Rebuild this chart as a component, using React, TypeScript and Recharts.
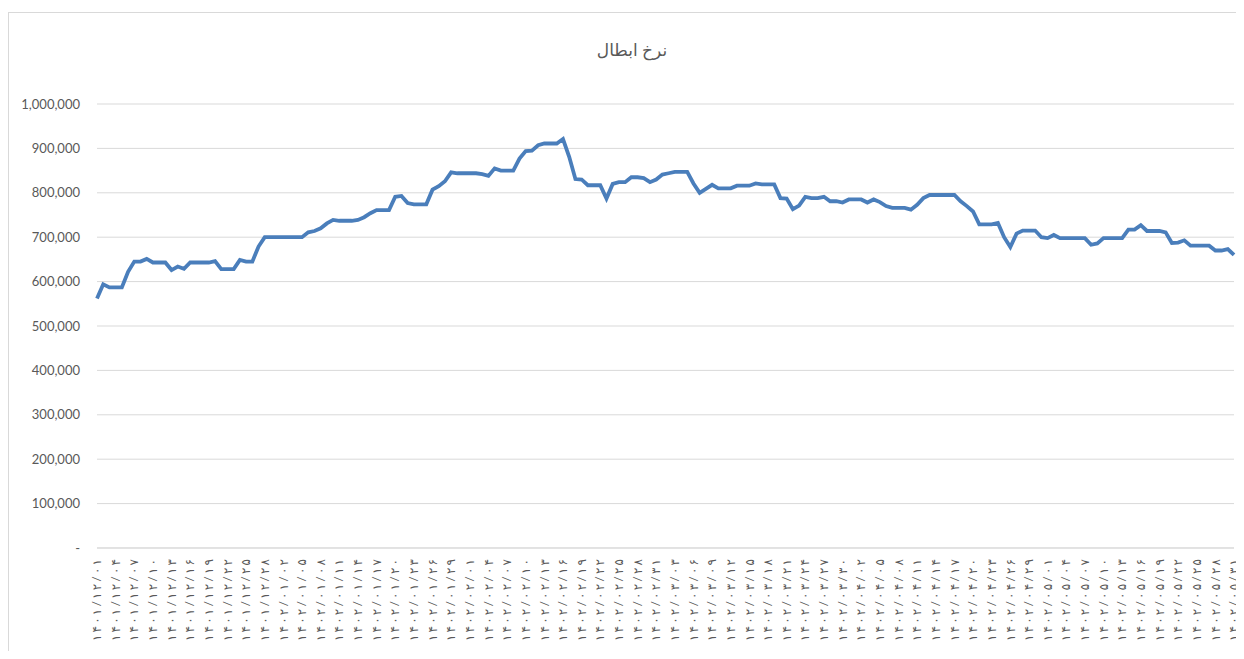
import { LineChart, Line, XAxis, YAxis, CartesianGrid } from 'recharts';

// Persian calendar months covered by the chart
const months = [
    { year: 1401, month: 12, days: 29 },
    { year: 1402, month: 1, days: 31 },
    { year: 1402, month: 2, days: 31 },
    { year: 1402, month: 3, days: 31 },
    { year: 1402, month: 4, days: 31 },
    { year: 1402, month: 5, days: 31 },
];

// redemption price, one value per day
const prices = [
    562000, 594000, 587000, 587000, 587000, 622000, 645000, 645000, 651000, 643000,
    643000, 643000, 626000, 634000, 629000, 643000, 643000, 643000, 643000, 646000,
    628000, 628000, 628000, 649000, 645000, 645000, 679000, 700000, 700000, 700000,
    700000, 700000, 700000, 700000, 711000, 714000, 720000, 731000, 739000, 737000,
    737000, 737000, 739000, 745000, 754000, 761000, 761000, 761000, 791000, 793000,
    777000, 774000, 774000, 774000, 807000, 815000, 826000, 846000, 844000, 844000,
    844000, 844000, 842000, 838000, 855000, 850000, 850000, 850000, 877000, 894000,
    895000, 907000, 911000, 911000, 911000, 921000, 881000, 831000, 830000, 817000,
    817000, 817000, 787000, 820000, 824000, 824000, 835000, 835000, 833000, 824000,
    830000, 841000, 844000, 847000, 847000, 847000, 821000, 800000, 809000, 818000,
    810000, 810000, 810000, 816000, 816000, 816000, 821000, 819000, 819000, 819000,
    788000, 787000, 763000, 771000, 791000, 788000, 788000, 791000, 781000, 781000,
    778000, 785000, 785000, 785000, 778000, 785000, 779000, 770000, 766000, 766000,
    766000, 762000, 773000, 788000, 795000, 795000, 795000, 795000, 795000, 781000,
    770000, 758000, 729000, 729000, 729000, 732000, 700000, 678000, 708000, 715000,
    715000, 715000, 700000, 698000, 705000, 698000, 698000, 698000, 698000, 698000,
    683000, 686000, 698000, 698000, 698000, 698000, 717000, 717000, 727000, 714000,
    714000, 714000, 711000, 687000, 688000, 693000, 681000, 681000, 681000, 681000,
    670000, 670000, 673000, 660000,
];

const yTicks = [0, 100000, 200000, 300000, 400000, 500000, 600000, 700000, 800000, 900000, 1000000];

const title = 'نرخ ابطال';

const faDigits = '۰۱۲۳۴۵۶۷۸۹';
const fa = (s: string) => s.replace(/\d/g, (d) => faDigits[Number(d)]);
const pad = (n: number) => String(n).padStart(2, '0');

const dates = months.flatMap((m) =>
    Array.from({ length: m.days }, (_, i) => fa(`${m.year}/${pad(m.month)}/${pad(i + 1)}`))
);

const data = dates.map((date, i) => ({ date, price: prices[i] }));

const font = "Lato, 'DejaVu Sans', sans-serif";

const DateTick = ({ x, y, payload }: any) => (
    <text
        x={x}
        y={y + 3}
        transform={`rotate(-90 ${x} ${y + 3})`}
        textAnchor="end"
        dy="0.35em"
        fontSize={12}
        textLength={82}
        lengthAdjust="spacing"
        fill="#595959"
        fontFamily={font}
    >
        {payload.value}
    </text>
);

const formatY = (v: number) => (v === 0 ? '-' : v.toLocaleString('en-US'));

export default function App() {
    return (
        <div
            style={{
                position: 'relative',
                marginTop: 4,
                width: 1235,
                height: 638,
                borderLeft: '1px solid #d9d9d9',
                borderTop: '1px solid #d9d9d9',
                background: '#fff',
                overflow: 'hidden',
            }}
        >
            <div
                style={{
                    position: 'absolute',
                    top: 26,
                    left: 0,
                    width: 1246,
                    textAlign: 'center',
                    fontFamily: font,
                    fontSize: 17,
                    color: '#595959',
                }}
            >
                {title}
            </div>
            <LineChart
                width={1260}
                height={638}
                data={data}
                margin={{ top: 91, right: 35, left: 0, bottom: 3 }}
            >
                <CartesianGrid vertical={false} stroke="#d9d9d9" />
                <XAxis
                    dataKey="date"
                    interval={2}
                    height={100}
                    tick={<DateTick />}
                    tickLine={false}
                    axisLine={{ stroke: '#d9d9d9' }}
                />
                <YAxis
                    width={88}
                    domain={[0, 1000000]}
                    ticks={yTicks}
                    tickFormatter={formatY}
                    tickMargin={11}
                    axisLine={false}
                    tickLine={false}
                    tick={{ fontSize: 13, fill: '#595959', fontFamily: font }}
                />
                <Line
                    type="linear"
                    dataKey="price"
                    stroke="#4a7ebb"
                    strokeWidth={3.8}
                    dot={false}
                    isAnimationActive={false}
                />
            </LineChart>
        </div>
    );
}
